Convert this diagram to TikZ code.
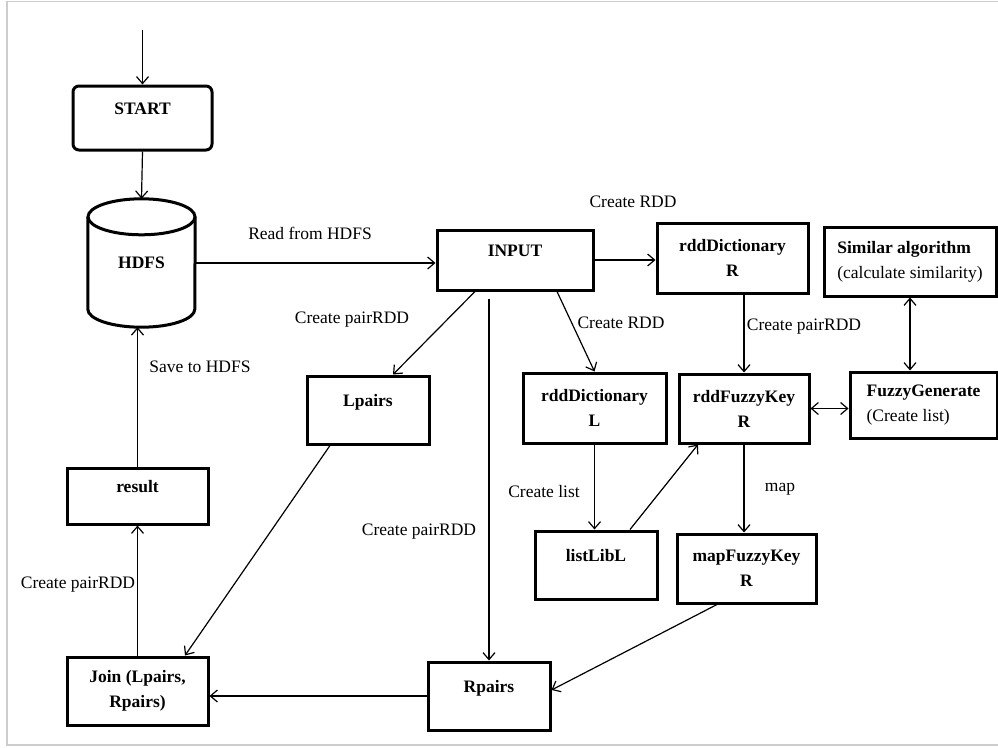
\documentclass[tikz,border=0pt]{standalone}
\usepackage{fontspec}
\setmainfont{Liberation Serif}
\usetikzlibrary{arrows.meta,calc}

\begin{document}
\begin{tikzpicture}[
    x=1pt, y=-1pt,
    font=\fontsize{17.5}{25}\selectfont,
    >={Straight Barb[length=7pt,width=12pt]},
    arr/.style={->, line width=1.2pt},
    dblarr/.style={<->, line width=1.2pt},
    block/.style={draw, line width=3pt, rectangle, align=center, inner sep=0pt, font=\fontsize{17.5}{25}\selectfont\bfseries},
    onerow/.style={text height=12pt, text depth=20pt},
    roundblock/.style={block, rounded corners=6pt},
    note/.style={inner sep=0pt}
]

% frame
\useasboundingbox (0,0) rectangle (998,747);
\clip (0,0) rectangle (998,747);
\draw[gray!40, line width=1.5pt] (7,1.5) rectangle (1010,745);

% start and storage
\coordinate (entry) at (142.5,30);
\node[roundblock, onerow, minimum width=139, minimum height=64] (start) at (142.5,118) {START};
\node[inner sep=0pt, minimum width=107, minimum height=128, font=\fontsize{17.5}{25}\selectfont\bfseries] (hdfs) at (141.5,263) {HDFS};
\draw[line width=3pt] ([yshift=-18pt]hdfs.north) ellipse [x radius=53.5pt, y radius=18pt];
\draw[line width=3pt] ([yshift=-18pt]hdfs.north west) -- ([yshift=18pt]hdfs.south west)
    arc[start angle=180, end angle=360, x radius=53.5pt, y radius=18pt] -- ([yshift=-18pt]hdfs.north east);

% input and dictionaries
\node[block, onerow, minimum width=156, minimum height=60] (input) at (515,260) {INPUT};
\node[block, minimum width=151, minimum height=70] (dictR) at (732.5,258) {rddDictionary\\R};
\node[block, minimum width=172, minimum height=69, align=left] (simalg) at (910,261.5) {Similar algorithm\\\mdseries(calculate similarity)};
\node[block, onerow, minimum width=122, minimum height=68] (lpairs) at (368,410) {Lpairs};
\node[block, minimum width=143, minimum height=70] (dictL) at (594.5,408) {rddDictionary\\L};
\node[block, minimum width=130, minimum height=69] (fuzzyR) at (744,408.5) {rddFuzzyKey\\R};
\node[block, minimum width=147, minimum height=66, align=left] (fuzzygen) at (923.5,405) {FuzzyGenerate\\\mdseries(Create list)};

% lower row
\node[block, onerow, minimum width=141, minimum height=56] (result) at (137.5,496) {result};
\node[block, onerow, minimum width=122, minimum height=68] (listlib) at (596,565) {listLibL};
\node[block, minimum width=139, minimum height=69] (mapR) at (746.5,568.5) {mapFuzzyKey\\R};
\node[block, onerow, minimum width=122, minimum height=68] (rpairs) at (489,696) {Rpairs};
\node[block, minimum width=141, minimum height=68] (join) at (137.5,691) {Join (Lpairs,\\Rpairs)};

% labels
\node[note] (lread) at (310,233) {Read from HDFS};
\node[note] (lrddR) at (633,202) {Create RDD};
\node[note] (lpairL) at (352,320) {Create pairRDD};
\node[note] (lrddL) at (621,323) {Create RDD};
\node[note] (lpairF) at (804,327) {Create pairRDD};
\node[note] (lsave) at (200,367) {Save to HDFS};
\node[note] (llist) at (544,492) {Create list};
\node[note] (lmap) at (780,489) {map};
\node[note] (lpairR) at (419,532) {Create pairRDD};
\node[note] (lpairJ) at (78,585) {Create pairRDD};

% arrows
\draw[arr] (entry) -- (start.north);
\draw[arr] (start.south) -- (hdfs.north);
\draw[arr] (hdfs.east) -- (hdfs.east -| input.west);
\draw[arr] (input.east) -- (input.east -| dictR.west);
\draw[arr] ([xshift=-40pt]input.south) -- ([xshift=25pt]lpairs.north);
\draw[arr] ([xshift=42pt]input.south) -- (dictL.north);
\draw[arr] ([yshift=-7pt]rpairs.north |- input.south) -- (rpairs.north);
\draw[arr] (fuzzyR.north |- dictR.south) -- (fuzzyR.north);
\draw[dblarr] (simalg.south) -- (simalg.south |- fuzzygen.north);
\draw[dblarr] (fuzzyR.east) -- (fuzzyR.east -| fuzzygen.west);
\draw[arr] (dictL.south) -- (dictL.south |- listlib.north);
\draw[arr] ([xshift=34pt]listlib.north) -- ([xshift=-46pt]fuzzyR.south);
\draw[arr] (fuzzyR.south) -- (fuzzyR.south |- mapR.north);
\draw[arr] ([xshift=-29.5pt]mapR.south) -- ([yshift=6pt]rpairs.east);
\draw[arr] (rpairs.west) -- (rpairs.west -| join.east);
\draw[arr] ([xshift=-38pt]lpairs.south) -- ([xshift=47.5pt]join.north);
\draw[arr] (join.north) -- (result.south);
\draw[arr] (result.north) -- (result.north |- hdfs.south);

\end{tikzpicture}
\end{document}
